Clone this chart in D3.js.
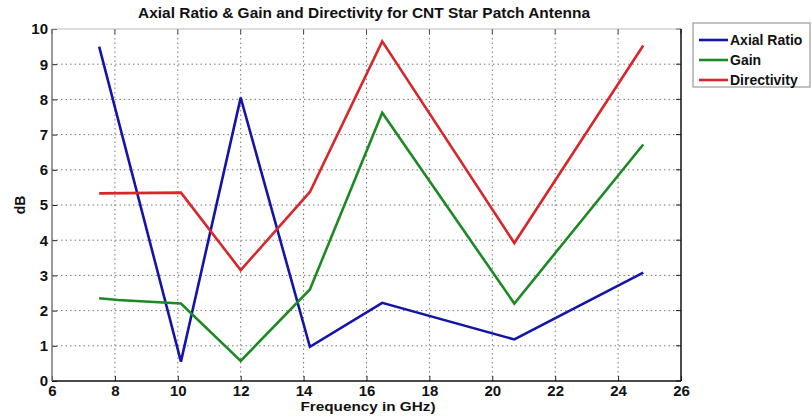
<!DOCTYPE html>
<html>
<head>
<meta charset="utf-8">
<script src="https://cdn.jsdelivr.net/npm/d3@7"></script>
<style>
  body { margin: 0; background: #fff; }
  svg { display: block; }
  text { font-family: "Liberation Sans", Arial, sans-serif; font-weight: bold; fill: #111; }
</style>
</head>
<body>
<svg id="chart" width="812" height="417"></svg>
<script>
// Frequency points (GHz) for each series
const freqAxial = [7.5, 10.1, 12, 14.2, 16.5, 20.7, 24.8];
const axialRatio = [9.5, 0.55, 8.05, 0.97, 2.22, 1.18, 3.08];

const freqGain = [7.5, 8.1, 10.1, 12, 14.2, 16.5, 20.7, 24.8];
const gain = [2.35, 2.3, 2.2, 0.57, 2.6, 7.62, 2.2, 6.72];

const freqDir = [7.5, 10.1, 12, 14.2, 16.5, 20.7, 24.8];
const directivity = [5.33, 5.35, 3.15, 5.37, 9.65, 3.92, 9.53];

const xTicks = [6, 8, 10, 12, 14, 16, 18, 20, 22, 24, 26];
const yTicks = [0, 1, 2, 3, 4, 5, 6, 7, 8, 9, 10];

const seriesNames = ["Axial Ratio", "Gain", "Directivity"];
const seriesColors = ["#1414a8", "#1c8a24", "#d8262a"];

const svg = d3.select("#chart");
const plotL = 52, plotR = 681, plotT = 29, plotB = 381;

const x = d3.scaleLinear().domain([6, 26]).range([plotL, plotR]);
const y = d3.scaleLinear().domain([0, 10]).range([plotB, plotT]);

// dotted grid
const grid = svg.append("g");
grid.selectAll("line.vx").data(xTicks.slice(1, -1)).join("line")
  .attr("x1", d => x(d)).attr("x2", d => x(d))
  .attr("y1", plotT).attr("y2", plotB)
  .attr("stroke", "#777").attr("stroke-width", 1).attr("stroke-dasharray", "1.5,3");
grid.selectAll("line.hy").data(yTicks.slice(1, -1)).join("line")
  .attr("x1", plotL).attr("x2", plotR)
  .attr("y1", d => y(d)).attr("y2", d => y(d))
  .attr("stroke", "#777").attr("stroke-width", 1).attr("stroke-dasharray", "1.5,3");

// axes with inward ticks
const xAxis = d3.axisBottom(x).tickValues(xTicks).tickSize(-5).tickPadding(4);
const yAxis = d3.axisLeft(y).tickValues(yTicks).tickSize(-5).tickPadding(4);

const gx = svg.append("g").attr("transform", `translate(0,${plotB})`).call(xAxis);
const gy = svg.append("g").attr("transform", `translate(${plotL},0)`).call(yAxis);
[gx, gy].forEach(g => {
  g.select(".domain").remove();
  g.selectAll(".tick line").attr("stroke", "#222");
  g.selectAll(".tick text").attr("font-size", 15)
    .attr("font-family", "'Liberation Sans', Arial, sans-serif")
    .attr("font-weight", "bold").attr("fill", "#111");
});

// mirrored ticks on top and right
svg.append("g").selectAll("line").data(xTicks).join("line")
  .attr("x1", d => x(d)).attr("x2", d => x(d)).attr("y1", plotT).attr("y2", plotT + 5)
  .attr("stroke", "#444");
svg.append("g").selectAll("line").data(yTicks).join("line")
  .attr("x1", plotR - 5).attr("x2", plotR).attr("y1", d => y(d)).attr("y2", d => y(d))
  .attr("stroke", "#222");

// box
svg.append("line").attr("x1", plotL).attr("x2", plotR).attr("y1", plotT).attr("y2", plotT)
  .attr("stroke", "#bbb").attr("stroke-width", 1.2);
svg.append("line").attr("x1", plotL).attr("x2", plotR).attr("y1", plotB).attr("y2", plotB)
  .attr("stroke", "#111").attr("stroke-width", 1.5);
svg.append("line").attr("x1", plotL).attr("x2", plotL).attr("y1", plotT).attr("y2", plotB)
  .attr("stroke", "#777").attr("stroke-width", 1.5);
svg.append("line").attr("x1", plotR).attr("x2", plotR).attr("y1", plotT).attr("y2", plotB)
  .attr("stroke", "#111").attr("stroke-width", 1.5);

// series lines
const line = d3.line().x(d => x(d[0])).y(d => y(d[1]));
const series = [
  d3.zip(freqAxial, axialRatio),
  d3.zip(freqGain, gain),
  d3.zip(freqDir, directivity)
];
series.forEach((pts, i) => {
  svg.append("path").datum(pts)
    .attr("d", line).attr("fill", "none")
    .attr("stroke", seriesColors[i]).attr("stroke-width", 2.6)
    .attr("stroke-linejoin", "miter");
});

// title and axis labels
svg.append("text").attr("x", 364).attr("y", 18).attr("text-anchor", "middle")
  .attr("font-size", 14).attr("textLength", 452).attr("lengthAdjust", "spacingAndGlyphs")
  .text("Axial Ratio & Gain and Directivity for CNT Star Patch Antenna");
svg.append("text").attr("x", 368).attr("y", 411).attr("text-anchor", "middle")
  .attr("font-size", 13).attr("textLength", 135).attr("lengthAdjust", "spacingAndGlyphs")
  .text("Frequency in GHz)");
svg.append("text").attr("transform", "translate(25,205) rotate(-90)")
  .attr("text-anchor", "middle").attr("font-size", 14).text("dB");

// legend
const lg = svg.append("g");
lg.append("rect").attr("x", 693).attr("y", 23).attr("width", 117).attr("height", 64)
  .attr("fill", "#fff").attr("stroke", "#999").attr("stroke-width", 1.2);
seriesNames.forEach((name, i) => {
  const ly = 40 + i * 20;
  lg.append("line").attr("x1", 699).attr("x2", 728).attr("y1", ly).attr("y2", ly)
    .attr("stroke", seriesColors[i]).attr("stroke-width", 2.6);
  lg.append("text").attr("x", 730).attr("y", ly + 5).attr("font-size", 14).text(name);
});
</script>
</body>
</html>
